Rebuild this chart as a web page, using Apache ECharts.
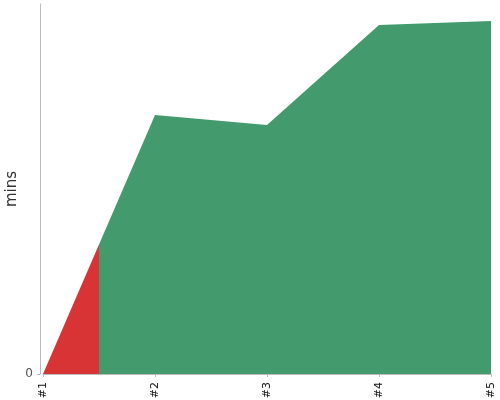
<!DOCTYPE html>
<html>
<head>
<meta charset="utf-8">
<script src="https://cdn.jsdelivr.net/npm/echarts@6/dist/echarts.min.js"></script>
<style>
  html, body { margin: 0; padding: 0; background: #fff; }
  #chart { width: 500px; height: 400px; }
</style>
</head>
<body>
<div id="chart"></div>
<script>
// data
const categories = ['#1', '#2', '#3', '#4', '#5'];
const mins = [0, 70, 67.3, 94.3, 95.4];
const yMax = 100;
const yTicks = [0];
const redUntil = 0.5; // red up to half way to #2

const chart = echarts.init(document.getElementById('chart'));

// hard colour stop across the area, as a share of its width
let cut = redUntil / (categories.length - 1);

chart.setOption({
  animation: false,
  grid: { left: 43, right: 9, top: 4, bottom: 26, outerBoundsMode: 'none', containLabel: false },
  xAxis: {
    type: 'category',
    data: categories,
    boundaryGap: false,
    offset: 4,
    axisLine: { lineStyle: { color: '#bbb' } },
    axisTick: { show: true, length: 3, lineStyle: { color: '#bbb' } },
    axisLabel: { rotate: 90, color: '#111', fontSize: 11, margin: 4, fontFamily: 'DejaVu Sans' }
  },
  yAxis: {
    type: 'value',
    min: 0,
    max: yMax,
    name: 'mins',
    nameLocation: 'middle',
    nameGap: 20,
    nameMoveOverlap: false,
    nameTextStyle: { color: '#333', fontSize: 15, fontFamily: 'DejaVu Sans' },
    offset: 3,
    splitLine: { show: false },
    axisLine: { show: true, lineStyle: { color: '#bbb' } },
    axisTick: { show: true, length: 3, lineStyle: { color: '#bbb' }, customValues: yTicks },
    axisLabel: {
      color: '#555', fontSize: 12, margin: 7, fontFamily: 'DejaVu Sans',
      customValues: yTicks
    }
  },
  series: [{
    type: 'line',
    data: mins,
    showSymbol: false,
    lineStyle: { width: 0, opacity: 0 },
    areaStyle: {
      opacity: 1,
      color: new echarts.graphic.LinearGradient(0, 0, 1, 0, [
        { offset: 0, color: '#d83436' },
        { offset: cut, color: '#d83436' },
        { offset: cut, color: '#439b6d' },
        { offset: 1, color: '#439b6d' }
      ])
    }
  }]
});
</script>
</body>
</html>
